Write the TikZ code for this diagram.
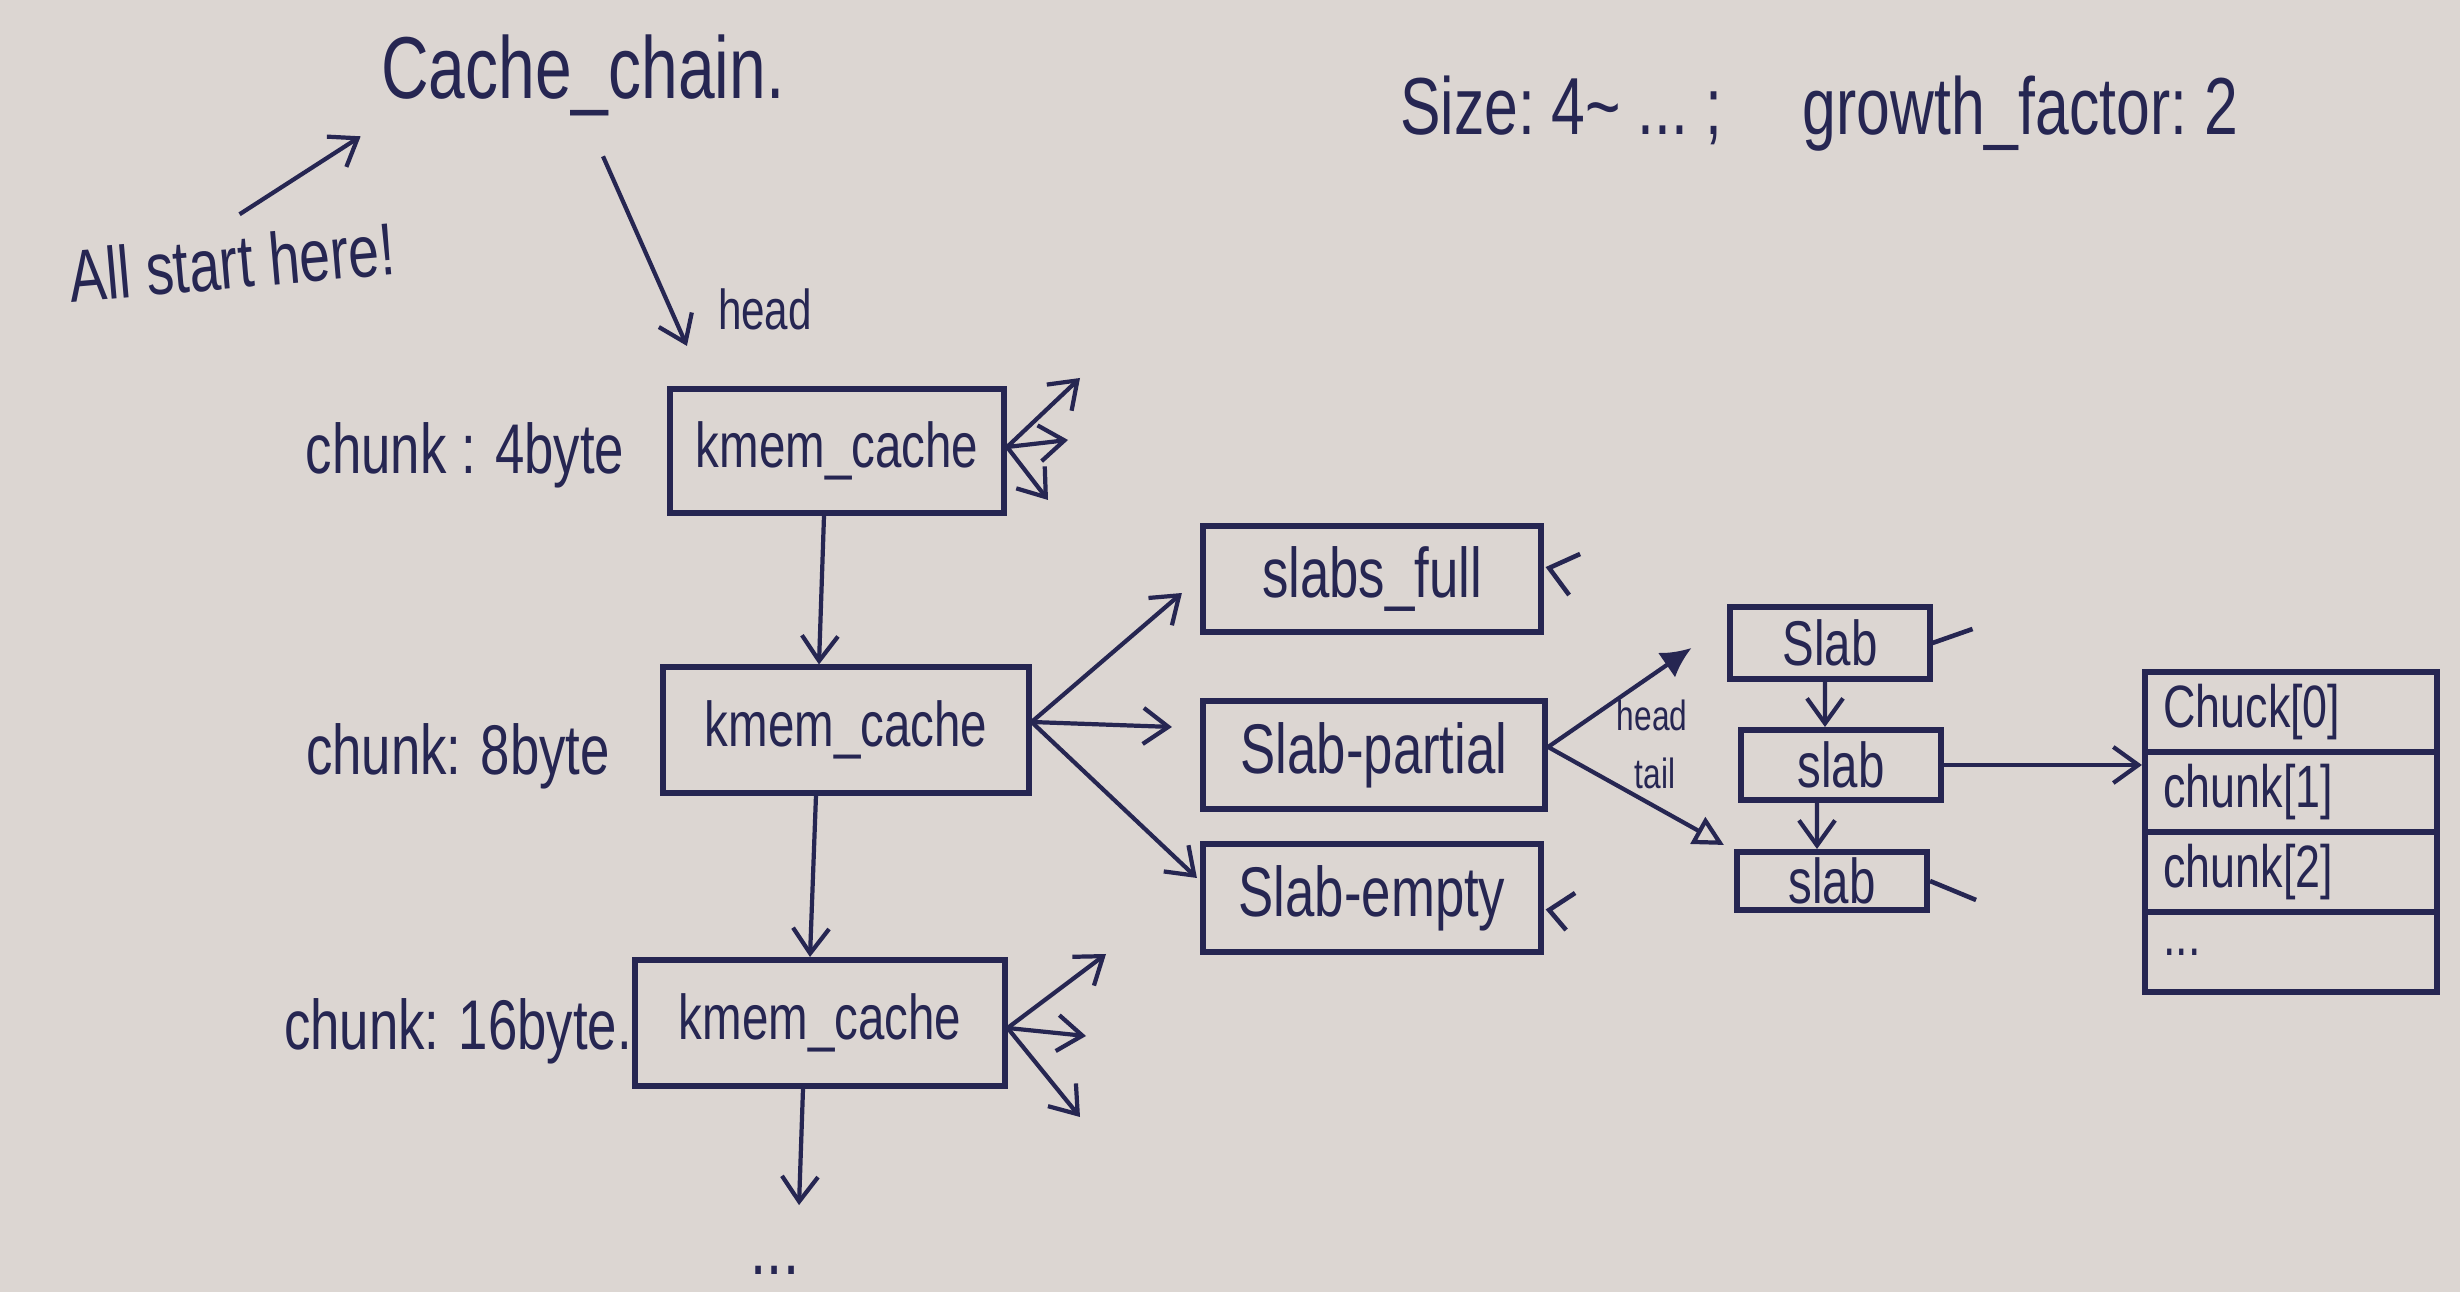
\documentclass[tikz,border=0pt]{standalone}
\usepackage{fontspec}
\setmainfont{Liberation Sans}[FakeStretch=0.75]
\usetikzlibrary{arrows.meta}
\definecolor{paper}{RGB}{220,214,210}
\definecolor{ink}{RGB}{38,38,82}
\newcommand{\hwsize}[1]{\fontsize{#1}{#1}\selectfont}
\tikzset{
  box/.style={draw=ink, line width=1.7pt, inner sep=0pt, text=ink},
  lbl/.style={text=ink, inner sep=0pt},
  arr/.style={draw=ink, line width=1.2pt, -{Straight Barb[length=2.5mm,width=3.6mm]}},
  ln/.style={draw=ink, line width=1.3pt},
}
\begin{document}
\begin{tikzpicture}[x=0.01cm,y=-0.01cm]
\fill[paper] (0,0) rectangle (2460,1292);
\useasboundingbox (0,0) rectangle (2460,1292);

% titles and labels
\node[lbl,font=\hwsize{25}] (cc) at (583,75) {Cache\_chain.};
\node[lbl,font=\hwsize{21},rotate=5] (ash) at (232,262) {All start here!};
\node[lbl,font=\hwsize{16}] (hd) at (765,309) {head};
\node[lbl,font=\hwsize{23}] (sz) at (1819,114) {Size:\ 4\textasciitilde\ ...\ ;\quad growth\_factor:\ 2};

% kmem_cache chain
\node[box,minimum width=3.34cm,minimum height=1.24cm,font=\hwsize{18}] (k1) at (837,451) {kmem\_cache};
\node[box,minimum width=3.65cm,minimum height=1.25cm,font=\hwsize{18}] (k2) at (846,730) {kmem\_cache};
\node[box,minimum width=3.69cm,minimum height=1.26cm,font=\hwsize{18}] (k3) at (820,1023) {kmem\_cache};
\node[lbl,font=\hwsize{20}] (l1) at (465,455) {chunk : 4byte};
\node[lbl,font=\hwsize{20}] (l2) at (458,756) {chunk: 8byte};
\node[lbl,font=\hwsize{20}] (l3) at (458,1031) {chunk: 16byte.};
\node[lbl,font=\hwsize{22}] (dots) at (775,1270) {...};

% slab lists
\node[box,minimum width=3.38cm,minimum height=1.06cm,font=\hwsize{20}] (full) at (1372,579) {slabs\_full};
\node[box,minimum width=3.42cm,minimum height=1.07cm,font=\hwsize{20}] (partial) at (1374,755) {Slab-partial};
\node[box,minimum width=3.38cm,minimum height=1.08cm,font=\hwsize{20}] (empty) at (1372,898) {Slab-empty};

% slabs
\node[box,minimum width=1.99cm,minimum height=0.72cm,font=\hwsize{18}] (s1) at (1830,643) {Slab};
\node[box,minimum width=1.99cm,minimum height=0.70cm,font=\hwsize{18}] (s2) at (1841,765) {slab};
\node[box,minimum width=1.90cm,minimum height=0.58cm,font=\hwsize{18}] (s3) at (1832,881) {slab};
\node[lbl,font=\hwsize{12}] (hl) at (1652,715) {head};
\node[lbl,font=\hwsize{12}] (tl) at (1655,773) {tail};

% chunk array
\tikzset{crow/.style={box,minimum width=2.92cm,minimum height=0.8cm,text width=2.55cm,align=left,font=\hwsize{17}}}
\node[crow] (c0) at (2291,712) {Chuck[0]};
\node[crow] (c1) at (2291,792) {chunk[1]};
\node[crow] (c2) at (2291,872) {chunk[2]};
\node[crow] (c3) at (2291,952) {...};

% connectors
\draw[arr] ([xshift=0.1cm,yshift=0.2cm]ash.north) -- ([xshift=-0.2cm,yshift=-0.2cm]cc.south west);
\draw[arr] ([xshift=0.2cm,yshift=-0.4cm]cc.south) -- ([xshift=0.2cm,yshift=0.4cm]k1.north west);
\draw[arr] ([xshift=-0.13cm]k1.south) -- ([xshift=-0.27cm]k2.north);
\draw[arr] ([xshift=-0.3cm]k2.south) -- ([xshift=-0.1cm]k3.north);
\draw[arr] ([xshift=-0.17cm]k3.south) -- ([xshift=0.24cm,yshift=0.6cm]dots.north);

\coordinate (k1a) at (1080,378);
\coordinate (k1b) at (1068,440);
\coordinate (k1c) at (1048,500);
\draw[arr] ([yshift=0.04cm]k1.east) -- (k1a);
\draw[arr] ([yshift=0.04cm]k1.east) -- (k1b);
\draw[arr] ([yshift=0.04cm]k1.east) -- (k1c);

\coordinate (k3a) at (1106,954);
\coordinate (k3b) at (1086,1036);
\coordinate (k3c) at (1080,1117);
\draw[arr] ([yshift=-0.05cm]k3.east) -- (k3a);
\draw[arr] ([yshift=-0.05cm]k3.east) -- (k3b);
\draw[arr] ([yshift=-0.05cm]k3.east) -- (k3c);

\draw[arr] ([yshift=0.08cm]k2.east) -- ([xshift=-0.18cm,yshift=-0.14cm]full.west);
\draw[arr] ([yshift=0.08cm]k2.east) -- ([xshift=-0.28cm,yshift=0.28cm]partial.west);
\draw[arr] ([yshift=0.08cm]k2.east) -- ([xshift=-0.03cm,yshift=0.2cm]empty.west);

\draw[ln] ([xshift=0.36cm,yshift=0.25cm]full.east) -- ([xshift=0.05cm,yshift=0.11cm]full.east) -- ([xshift=0.25cm,yshift=-0.16cm]full.east);
\draw[ln] ([xshift=0.31cm,yshift=0.05cm]empty.east) -- ([xshift=0.05cm,yshift=-0.12cm]empty.east) -- ([xshift=0.22cm,yshift=-0.32cm]empty.east);

\draw[draw=ink,line width=1.2pt,-{Latex[length=3mm,width=3mm]}] ([yshift=0.08cm]partial.east) -- ([xshift=-0.36cm,yshift=-0.05cm]s1.west);
\draw[draw=ink,line width=1.2pt,-{Triangle[open,length=3mm,width=3mm]}] ([yshift=0.08cm]partial.east) -- ([xshift=-0.1cm,yshift=0.04cm]s3.north west);

\draw[arr] ([xshift=-0.05cm]s1.south) -- ([xshift=-0.16cm]s2.north);
\draw[arr] ([xshift=-0.24cm]s2.south) -- ([xshift=-0.15cm]s3.north);
\draw[ln] (s1.east) -- ++(40,-14);
\draw[ln] (s3.east) -- ++(46,19);
\draw[arr] (s2.east) -- (s2.east -| c1.west);
\end{tikzpicture}
\end{document}
